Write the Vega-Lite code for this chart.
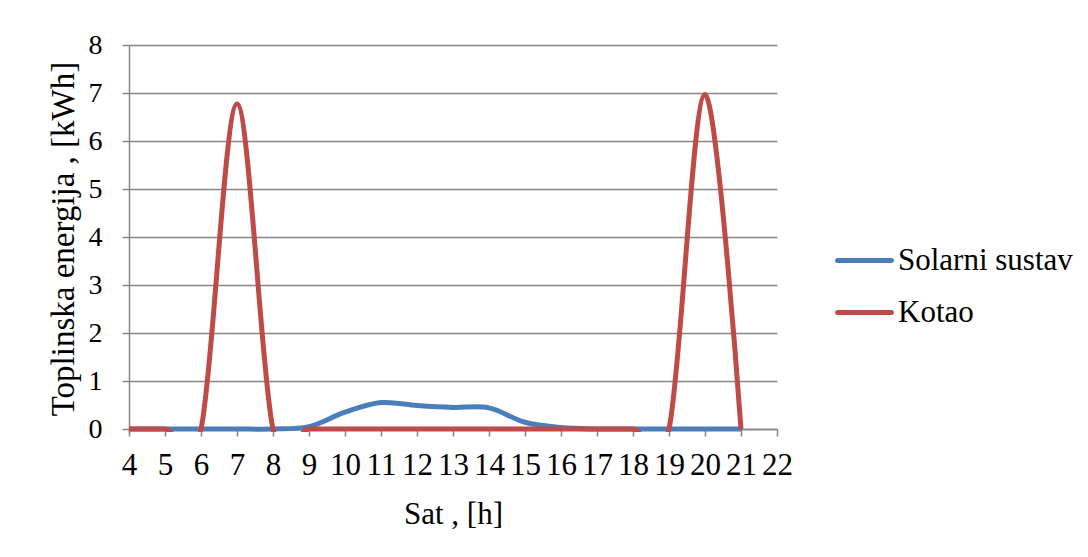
{
  "$schema": "https://vega.github.io/schema/vega-lite/v6.json",
  "autosize": {"type": "none"},
  "padding": {"left": 129, "top": 45, "right": 311, "bottom": 125},
  "width": 648,
  "height": 387,
  "background": "white",
  "config": {
    "view": {"stroke": null},
    "font": "Liberation Serif",
    "style": {"guide-label": {"font": "serif", "fontWeight": "normal"}, "guide-title": {"font": "Liberation Serif"}}
  },
  "data": {
    "values": [
      {"hour": 4, "series": "Solarni sustav", "value": 0},
      {"hour": 5, "series": "Solarni sustav", "value": 0},
      {"hour": 6, "series": "Solarni sustav", "value": 0},
      {"hour": 7, "series": "Solarni sustav", "value": 0},
      {"hour": 8, "series": "Solarni sustav", "value": 0},
      {"hour": 9, "series": "Solarni sustav", "value": 0.05},
      {"hour": 10, "series": "Solarni sustav", "value": 0.35},
      {"hour": 11, "series": "Solarni sustav", "value": 0.55},
      {"hour": 12, "series": "Solarni sustav", "value": 0.49},
      {"hour": 13, "series": "Solarni sustav", "value": 0.45},
      {"hour": 14, "series": "Solarni sustav", "value": 0.44},
      {"hour": 15, "series": "Solarni sustav", "value": 0.14},
      {"hour": 16, "series": "Solarni sustav", "value": 0.03},
      {"hour": 17, "series": "Solarni sustav", "value": 0},
      {"hour": 18, "series": "Solarni sustav", "value": 0},
      {"hour": 19, "series": "Solarni sustav", "value": 0},
      {"hour": 20, "series": "Solarni sustav", "value": 0},
      {"hour": 21, "series": "Solarni sustav", "value": 0},
      {"hour": 4, "series": "Kotao", "value": 0},
      {"hour": 5, "series": "Kotao", "value": 0},
      {"hour": 6, "series": "Kotao", "value": 0},
      {"hour": 7, "series": "Kotao", "value": 6.77},
      {"hour": 8, "series": "Kotao", "value": 0},
      {"hour": 9, "series": "Kotao", "value": 0},
      {"hour": 10, "series": "Kotao", "value": 0},
      {"hour": 11, "series": "Kotao", "value": 0},
      {"hour": 12, "series": "Kotao", "value": 0},
      {"hour": 13, "series": "Kotao", "value": 0},
      {"hour": 14, "series": "Kotao", "value": 0},
      {"hour": 15, "series": "Kotao", "value": 0},
      {"hour": 16, "series": "Kotao", "value": 0},
      {"hour": 17, "series": "Kotao", "value": 0},
      {"hour": 18, "series": "Kotao", "value": 0},
      {"hour": 19, "series": "Kotao", "value": 0},
      {"hour": 20, "series": "Kotao", "value": 6.97},
      {"hour": 21, "series": "Kotao", "value": 0}
    ]
  },
  "mark": {"type": "line", "interpolate": "cardinal", "strokeWidth": 5, "clip": true},
  "encoding": {
    "x": {
      "field": "hour", "type": "quantitative",
      "scale": {"domain": [4, 22], "nice": false, "zero": false},
      "axis": {
        "values": [4,5,6,7,8,9,10,11,12,13,14,15,16,17,18,19,20,21,22],
        "grid": false, "offset": -3,
        "title": "Sat , [h]",
        "domainColor": "#868686", "domainWidth": 1.5,
        "tickColor": "#868686", "tickSize": 7, "tickWidth": 1.5,
        "labelFont": "serif", "titleFont": "Liberation Serif", "labelFontWeight": "normal",
        "labelFontSize": 31, "labelColor": "#000000", "labelPadding": 14,
        "labelFlush": false, "labelOverlap": false,
        "titleFontSize": 31, "titleFontWeight": "normal", "titleColor": "#000000", "titlePadding": 19
      }
    },
    "y": {
      "field": "value", "type": "quantitative",
      "scale": {"domain": [-0.0625, 8], "nice": false, "zero": false},
      "axis": {
        "values": [0,1,2,3,4,5,6,7,8],
        "grid": true, "gridColor": "#868686", "gridWidth": 1.5,
        "title": "Toplinska energija , [kWh]",
        "domainColor": "#868686", "domainWidth": 1.5,
        "tickColor": "#868686", "tickSize": 7, "tickWidth": 1.5,
        "labelFont": "serif", "titleFont": "Liberation Serif", "labelFontWeight": "normal",
        "labelFontSize": 28, "labelColor": "#000000", "labelPadding": 20,
        "labelFlush": false, "labelOverlap": false,
        "titleFontSize": 33, "titleFontWeight": "normal", "titleColor": "#000000", "titlePadding": 8
      }
    },
    "color": {
      "field": "series", "type": "nominal",
      "scale": {"domain": ["Solarni sustav", "Kotao"], "range": ["#4A7EBB", "#BE4B48"]},
      "legend": {
        "title": null, "orient": "none", "legendX": 706, "legendY": 186,
        "symbolType": "stroke", "symbolSize": 2900, "symbolStrokeWidth": 5,
        "labelFont": "serif", "labelFontWeight": "normal",
        "labelFontSize": 31, "labelColor": "#000000", "labelOffset": 4, "labelLimit": 0,
        "rowPadding": 7,
        "encode": {
          "symbols": {"update": {"strokeCap": {"value": "round"}}}
        }
      }
    }
  }
}
